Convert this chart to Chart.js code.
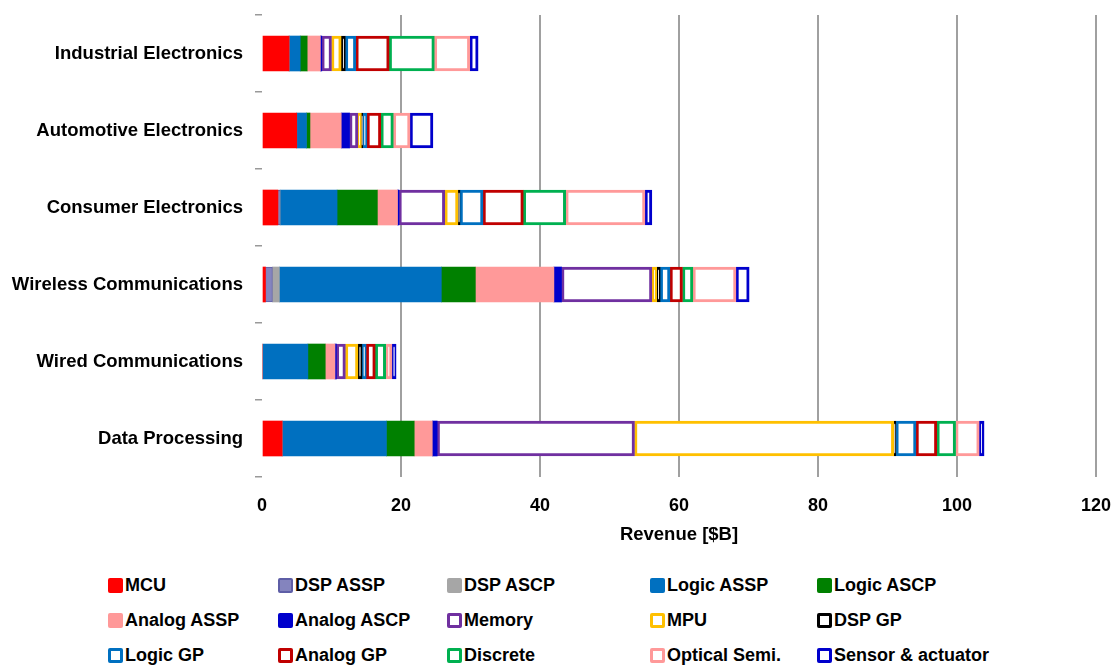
<!DOCTYPE html>
<html lang="en">
<head>
<meta charset="UTF-8">
<title>Revenue by application</title>
<script src="https://cdn.jsdelivr.net/npm/chart.js"></script>
<style>
  body { margin: 0; background: #fff; font-family: "Liberation Sans", Arial, sans-serif; }
  #wrap { position: relative; width: 1111px; height: 666px; }
  #legend {
    position: absolute; left: 108px; top: 568px;
    display: grid;
    grid-template-columns: 170px 169px 203px 167px 190px;
    grid-auto-rows: 35px;
    font-weight: bold; font-size: 18px; color: #000;
  }
  .item { display: flex; align-items: center; white-space: nowrap; }
  .box { width: 15px; height: 15px; box-sizing: border-box; margin-right: 2px; border-radius: 2px; }
</style>
</head>
<body>
<div id="wrap">
  <canvas id="revChart" width="1111" height="560"></canvas>
  <div id="legend"></div>
</div>

<script>
// application segments, top to bottom
const categories = ['Industrial Electronics', 'Automotive Electronics', 'Consumer Electronics',
                    'Wireless Communications', 'Wired Communications', 'Data Processing'];

// revenue in $B per product type, same order as categories
const mcu        = [3.9, 5.0, 2.3, 0.5, 0.0, 2.9];
const dspAssp    = [0.0, 0.0, 0.3, 1.0, 0.0, 0.0];
const dspAscp    = [0.0, 0.0, 0.0, 1.0, 0.0, 0.0];
const logicAssp  = [1.6, 1.4, 8.2, 23.3, 6.6, 15.0];
const logicAscp  = [1.0, 0.5, 5.8, 4.9, 2.5, 4.0];
const analogAssp = [1.9, 4.5, 2.9, 11.3, 1.4, 2.6];
const analogAscp = [0.2, 1.2, 0.2, 1.1, 0.2, 0.7];
const memory     = [1.4, 1.2, 6.6, 13.0, 1.3, 28.4];
const mpu        = [1.4, 0.5, 1.9, 0.7, 1.8, 37.3];
const dspGp      = [0.6, 0.2, 0.3, 0.5, 0.6, 0.3];
const logicGp    = [1.5, 0.6, 3.3, 1.4, 0.6, 2.9];
const analogGp   = [4.8, 2.0, 5.8, 1.8, 1.3, 3.0];
const discrete   = [6.5, 1.8, 6.1, 1.5, 1.5, 2.7];
const optical    = [5.1, 2.4, 11.4, 6.2, 0.9, 3.4];
const sensor     = [1.2, 3.3, 1.0, 1.9, 0.6, 0.7];

const xTicks = [0, 20, 40, 60, 80, 100, 120];

// filled series first, then the outlined ones
const series = [
  { label: 'MCU',               data: mcu,        color: '#FF0000', fill: true },
  { label: 'DSP ASSP',          data: dspAssp,    color: '#8484BE', edge: '#5E5EA6', fill: true },
  { label: 'DSP ASCP',          data: dspAscp,    color: '#A6A6A6', fill: true },
  { label: 'Logic ASSP',        data: logicAssp,  color: '#0070C0', fill: true },
  { label: 'Logic ASCP',        data: logicAscp,  color: '#008000', fill: true },
  { label: 'Analog ASSP',       data: analogAssp, color: '#FF9999', fill: true },
  { label: 'Analog ASCP',       data: analogAscp, color: '#0000CC', fill: true },
  { label: 'Memory',            data: memory,     color: '#7030A0', fill: false },
  { label: 'MPU',               data: mpu,        color: '#FFC000', fill: false },
  { label: 'DSP GP',            data: dspGp,      color: '#000000', fill: false },
  { label: 'Logic GP',          data: logicGp,    color: '#0070C0', fill: false },
  { label: 'Analog GP',         data: analogGp,   color: '#C00000', fill: false },
  { label: 'Discrete',          data: discrete,   color: '#00B050', fill: false },
  { label: 'Optical Semi.',     data: optical,    color: '#FF9999', fill: false },
  { label: 'Sensor & actuator', data: sensor,     color: '#0000CC', fill: false }
];

const datasets = series.map(s => ({
  label: s.label,
  data: s.data,
  backgroundColor: s.fill ? s.color : '#FFFFFF',
  borderColor: s.edge || s.color,
  borderWidth: s.fill ? (s.edge ? 1 : 0) : 3,
  borderSkipped: false,
  barThickness: 35
}));

const labelFont = { family: '"Liberation Sans", Arial, sans-serif', size: 18.5, weight: 'bold' };
const tickFont = { family: '"Liberation Sans", Arial, sans-serif', size: 18, weight: 'bold' };

new Chart(document.getElementById('revChart'), {
  type: 'bar',
  data: { labels: categories, datasets: datasets },
  options: {
    indexAxis: 'y',
    responsive: false,
    animation: false,
    devicePixelRatio: 1,
    layout: { padding: { left: 0, right: 15, top: 15, bottom: 0 } },
    plugins: { legend: { display: false }, tooltip: { enabled: false } },
    scales: {
      x: {
        stacked: true,
        min: 0, max: 120,
        afterBuildTicks: axis => { axis.ticks = xTicks.map(v => ({ value: v })); },
        afterFit: axis => {
          axis.height = 83;
          axis.paddingLeft = 0;
          axis.paddingRight = 0;
        },
        border: { display: false },
        grid: {
          drawTicks: false,
          lineWidth: 2,
          color: ctx => (ctx.tick && ctx.tick.value === 0) ? 'rgba(0,0,0,0)' : '#A0A0A0'
        },
        ticks: { color: '#000', font: tickFont, padding: 18 },
        title: {
          display: true, text: 'Revenue [$B]', color: '#000', font: labelFont,
          padding: { top: 0, bottom: 14 }
        }
      },
      y: {
        stacked: true,
        afterFit: axis => {
          axis.width = 262;
          axis.paddingTop = 0;
          axis.paddingBottom = 0;
        },
        border: { display: false },
        grid: { drawOnChartArea: false, drawTicks: true, tickLength: 7, color: '#999', lineWidth: 1.5 },
        ticks: { color: '#000', font: labelFont, padding: 12 }
      }
    }
  }
});

// legend laid out in five columns under the plot
const legend = document.getElementById('legend');
series.forEach(s => {
  const item = document.createElement('div');
  item.className = 'item';
  const box = document.createElement('span');
  box.className = 'box';
  if (s.fill) {
    box.style.background = s.color;
    if (s.edge) box.style.border = '2px solid ' + s.edge;
  } else {
    box.style.border = '3px solid ' + s.color;
    box.style.background = '#fff';
  }
  item.appendChild(box);
  item.appendChild(document.createTextNode(s.label));
  legend.appendChild(item);
});
</script>
</body>
</html>
